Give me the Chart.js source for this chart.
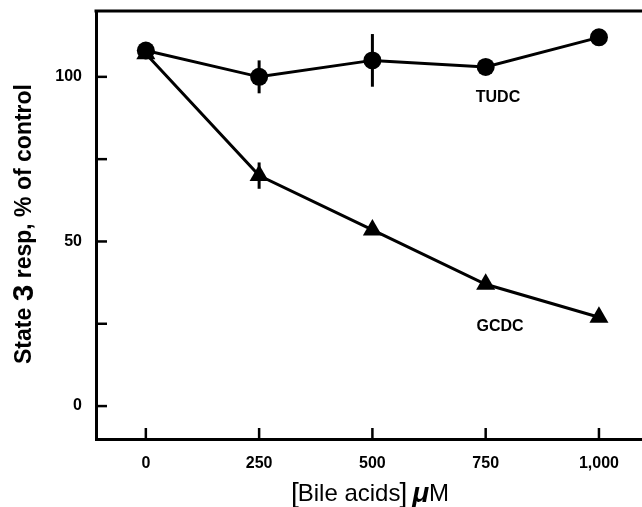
<!DOCTYPE html>
<html>
<head>
<meta charset="utf-8">
<script src="https://cdn.jsdelivr.net/npm/chart.js@4.4.1/dist/chart.umd.min.js"></script>
<style>
  html, body { margin: 0; padding: 0; background: #fff; }
  #wrap { width: 642px; height: 507px; }
</style>
</head>
<body>
<div id="wrap"><canvas id="bileChart" width="642" height="507"></canvas></div>
<script>
// concentrations (µM) and responses (% of control)
var doses = [0, 250, 500, 750, 1000];
var tudcValues = [108, 100, 105, 103, 112];
var tudcErrors = [0, 5, 8, 0, 0];
var gcdcValues = [107, 70, 53.5, 37, 27];
var gcdcErrors = [0, 4, 0, 0, 0];
var xTickValues = [0, 250, 500, 750, 1000];
var yTickValues = [0, 25, 50, 75, 100];
var yLabelled = [0, 50, 100];

var FONT = '"Liberation Sans", Arial, Helvetica, sans-serif';

function points(vals) {
    return doses.map(function(d, i) { return { x: d, y: vals[i] }; });
}

function drawParts(c, parts, cx, cy) {
    var total = 0;
    parts.forEach(function(p) { c.font = p[1] + ' ' + FONT; total += c.measureText(p[0]).width + (p[2] || 0); });
    var x0 = cx - total / 2;
    parts.forEach(function(p) {
        c.font = p[1] + ' ' + FONT;
        c.fillText(p[0], x0, cy);
        x0 += c.measureText(p[0]).width + (p[2] || 0);
    });
}

var extras = {
    id: 'extras',
    beforeDatasetsDraw: function(chart) {
        var c = chart.ctx, xs = chart.scales.x, ys = chart.scales.y;
        c.save();
        c.strokeStyle = '#000';
        c.lineWidth = 3;
        // error bars
        [[tudcValues, tudcErrors], [gcdcValues, gcdcErrors]].forEach(function(s) {
            s[1].forEach(function(e, i) {
                if (!e) return;
                var px = xs.getPixelForValue(doses[i]);
                c.beginPath();
                c.moveTo(px, ys.getPixelForValue(s[0][i] + e));
                c.lineTo(px, ys.getPixelForValue(s[0][i] - e));
                c.stroke();
            });
        });
        c.restore();
    },
    afterDraw: function(chart) {
        var c = chart.ctx, xs = chart.scales.x, ys = chart.scales.y, a = chart.chartArea;
        c.save();
        c.strokeStyle = '#000';
        c.fillStyle = '#000';
        c.lineWidth = 3;
        // top border
        c.beginPath();
        c.moveTo(a.left - 1.5, a.top);
        c.lineTo(a.right, a.top);
        c.stroke();
        // inward ticks
        c.lineWidth = 2.5;
        yTickValues.forEach(function(v) {
            var py = ys.getPixelForValue(v);
            c.beginPath();
            c.moveTo(a.left, py);
            c.lineTo(a.left + 11, py);
            c.stroke();
        });
        xTickValues.forEach(function(v) {
            var px = xs.getPixelForValue(v);
            c.beginPath();
            c.moveTo(px, a.bottom);
            c.lineTo(px, a.bottom - 11);
            c.stroke();
        });
        // series labels
        c.font = 'bold 16px ' + FONT;
        c.textAlign = 'center';
        c.textBaseline = 'middle';
        c.fillText('TUDC', 498, 98);
        c.fillText('GCDC', 500, 327);
        // y title
        c.textAlign = 'left';
        c.save();
        c.translate(25, 224);
        c.rotate(-Math.PI / 2);
        drawParts(c, [['State ', 'bold 23px'], ['3', 'bold 30px'], [' resp, % of control', 'bold 23px']], 0, 0);
        c.restore();
        // x title
        drawParts(c, [['[', '28px', -1], ['Bile acids', '24px', -1], [']', '28px', 5], ['\u03bc', 'bold italic 28px', 0], ['M', '24px', 0]], 370, 494);
        c.restore();
    }
};

var ctx = document.getElementById('bileChart');
new Chart(ctx, {
    type: 'scatter',
    data: {
        datasets: [{
            label: 'TUDC',
            data: points(tudcValues),
            showLine: true,
            borderColor: '#000',
            backgroundColor: '#000',
            borderWidth: 3,
            pointStyle: 'circle',
            pointRadius: 9,
            pointBorderWidth: 0
        }, {
            label: 'GCDC',
            data: points(gcdcValues),
            showLine: true,
            borderColor: '#000',
            backgroundColor: '#000',
            borderWidth: 3,
            pointStyle: 'triangle',
            pointRadius: 11,
            pointBorderWidth: 0
        }]
    },
    options: {
        responsive: false,
        animation: false,
        layout: { autoPadding: false, padding: { top: 11, left: 0, right: 0, bottom: 0 } },
        plugins: { legend: { display: false }, tooltip: { enabled: false } },
        scales: {
            x: {
                type: 'linear',
                min: -110,
                max: 1095,
                afterBuildTicks: function(s) { s.ticks = xTickValues.map(function(v) { return { value: v }; }); },
                afterFit: function(s) { s.height = 68; s.paddingLeft = 0; s.paddingRight = 0; },
                grid: { display: false, drawTicks: false },
                border: { display: true, color: '#000', width: 3 },
                ticks: {
                    padding: 15,
                    color: '#000',
                    font: { family: FONT, size: 16, weight: 'bold' },
                    maxRotation: 0,
                    callback: function(v) { return v === 1000 ? '1,000' : String(v); }
                }
            },
            y: {
                min: -10,
                max: 120,
                afterBuildTicks: function(s) { s.ticks = yTickValues.map(function(v) { return { value: v }; }); },
                afterFit: function(s) { s.width = 96; s.paddingTop = 0; s.paddingBottom = 0; },
                grid: { display: false, drawTicks: false },
                border: { display: true, color: '#000', width: 3 },
                ticks: {
                    padding: 14,
                    color: '#000',
                    font: { family: FONT, size: 16, weight: 'bold' },
                    callback: function(v) { return yLabelled.indexOf(v) >= 0 ? String(v) : ''; }
                }
            }
        }
    },
    plugins: [extras]
});
</script>
</body>
</html>
